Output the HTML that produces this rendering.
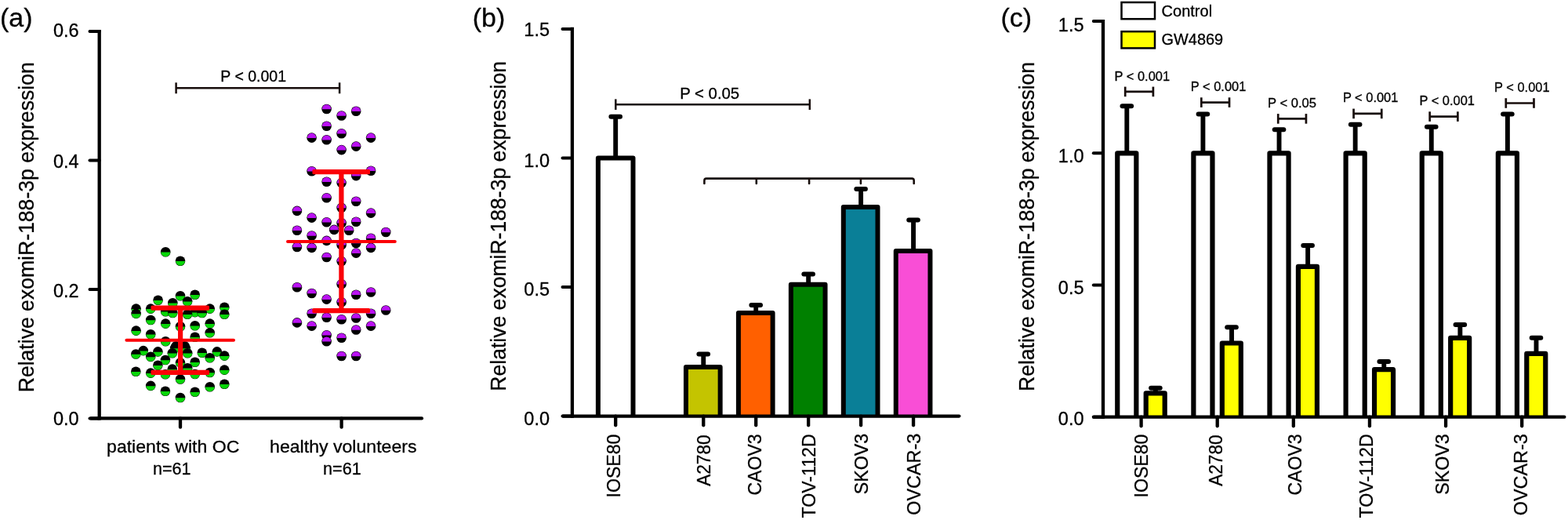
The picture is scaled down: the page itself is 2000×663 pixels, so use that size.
<!DOCTYPE html>
<html lang="en"><head><meta charset="utf-8"><title>Figure</title>
<style>
html,body{margin:0;padding:0;background:#fff;}
body{width:2000px;height:663px;overflow:hidden;}
svg{display:block;font-family:'Liberation Sans', sans-serif;}
text{fill:#000;stroke:#000;}
</style></head><body>
<svg width="2000" height="663" viewBox="0 0 2000 663">
<rect width="2000" height="663" fill="#fff"/>
<text x="0" y="33.5" font-size="34" stroke-width="0.3">(a)</text>
<text x="42.8" y="500.3" font-size="27" stroke-width="0.3" transform="rotate(-90 42.8 500.3)" textLength="421" lengthAdjust="spacingAndGlyphs">Relative exomiR-188-3p expression</text>
<text x="220.7" y="576.7" font-size="22.5" text-anchor="middle" stroke-width="0.3" textLength="169.3" lengthAdjust="spacingAndGlyphs">patients with OC</text>
<text x="219.3" y="604.8" font-size="22.5" text-anchor="middle" stroke-width="0.3" textLength="48.6" lengthAdjust="spacingAndGlyphs">n=61</text>
<text x="437.8" y="576.9" font-size="22.3" text-anchor="middle" stroke-width="0.3" textLength="187.5" lengthAdjust="spacingAndGlyphs">healthy volunteers</text>
<text x="436.4" y="604.9" font-size="22.5" text-anchor="middle" stroke-width="0.3" textLength="48.6" lengthAdjust="spacingAndGlyphs">n=61</text>
<line x1="224.6" y1="112.3" x2="433.1" y2="112.3" stroke="#180e0c" stroke-width="2.4"/>
<line x1="224.6" y1="105.3" x2="224.6" y2="119.3" stroke="#180e0c" stroke-width="2.5"/>
<line x1="433.1" y1="105.3" x2="433.1" y2="119.3" stroke="#180e0c" stroke-width="2.5"/>
<text x="323.2" y="103.6" font-size="19.5" text-anchor="middle" stroke-width="0.3">P &lt; 0.001</text>
<g>
<circle cx="211.2" cy="321.2" r="6.3"/><path d="M205.21 321.5A6.0 6.0 0 0 0 217.19 321.5Z" fill="#08d608"/>
<circle cx="230" cy="332.8" r="6.3"/><path d="M224.01 333.1A6.0 6.0 0 0 0 235.99 333.1Z" fill="#08d608"/>
<circle cx="248.7" cy="375.8" r="6.3"/><path d="M242.71 376.1A6.0 6.0 0 0 0 254.69 376.1Z" fill="#08d608"/>
<circle cx="230" cy="377.3" r="6.3"/><path d="M224.01 377.6A6.0 6.0 0 0 0 235.99 377.6Z" fill="#08d608"/>
<circle cx="201.6" cy="382.7" r="6.3"/><path d="M195.61 383A6.0 6.0 0 0 0 207.59 383Z" fill="#08d608"/>
<circle cx="239.1" cy="384.2" r="6.3"/><path d="M233.11 384.5A6.0 6.0 0 0 0 245.09 384.5Z" fill="#08d608"/>
<circle cx="220.3" cy="386.3" r="6.3"/><path d="M214.31 386.6A6.0 6.0 0 0 0 226.29 386.6Z" fill="#08d608"/>
<circle cx="286.3" cy="391.8" r="6.3"/><path d="M280.31 392.1A6.0 6.0 0 0 0 292.29 392.1Z" fill="#08d608"/>
<circle cx="173.6" cy="393.6" r="6.3"/><path d="M167.61 393.9A6.0 6.0 0 0 0 179.59 393.9Z" fill="#08d608"/>
<circle cx="192.2" cy="393.6" r="6.3"/><path d="M186.21 393.9A6.0 6.0 0 0 0 198.19 393.9Z" fill="#08d608"/>
<circle cx="267.7" cy="393.6" r="6.3"/><path d="M261.71 393.9A6.0 6.0 0 0 0 273.69 393.9Z" fill="#08d608"/>
<circle cx="211.2" cy="397.2" r="6.3"/><path d="M205.21 397.5A6.0 6.0 0 0 0 217.19 397.5Z" fill="#08d608"/>
<circle cx="248.7" cy="398.1" r="6.3"/><path d="M242.71 398.4A6.0 6.0 0 0 0 254.69 398.4Z" fill="#08d608"/>
<circle cx="220.3" cy="399" r="6.3"/><path d="M214.31 399.3A6.0 6.0 0 0 0 226.29 399.3Z" fill="#08d608"/>
<circle cx="257.7" cy="399" r="6.3"/><path d="M251.71 399.3A6.0 6.0 0 0 0 263.69 399.3Z" fill="#08d608"/>
<circle cx="173.6" cy="399.9" r="6.3"/><path d="M167.61 400.2A6.0 6.0 0 0 0 179.59 400.2Z" fill="#08d608"/>
<circle cx="239.1" cy="400.8" r="6.3"/><path d="M233.11 401.1A6.0 6.0 0 0 0 245.09 401.1Z" fill="#08d608"/>
<circle cx="286.3" cy="400.8" r="6.3"/><path d="M280.31 401.1A6.0 6.0 0 0 0 292.29 401.1Z" fill="#08d608"/>
<circle cx="192.2" cy="408" r="6.3"/><path d="M186.21 408.3A6.0 6.0 0 0 0 198.19 408.3Z" fill="#08d608"/>
<circle cx="211.2" cy="412.6" r="6.3"/><path d="M205.21 412.9A6.0 6.0 0 0 0 217.19 412.9Z" fill="#08d608"/>
<circle cx="267.7" cy="412.6" r="6.3"/><path d="M261.71 412.9A6.0 6.0 0 0 0 273.69 412.9Z" fill="#08d608"/>
<circle cx="248.7" cy="415.3" r="6.3"/><path d="M242.71 415.6A6.0 6.0 0 0 0 254.69 415.6Z" fill="#08d608"/>
<circle cx="230" cy="416.2" r="6.3"/><path d="M224.01 416.5A6.0 6.0 0 0 0 235.99 416.5Z" fill="#08d608"/>
<circle cx="173.6" cy="421.6" r="6.3"/><path d="M167.61 421.9A6.0 6.0 0 0 0 179.59 421.9Z" fill="#08d608"/>
<circle cx="267.7" cy="424.3" r="6.3"/><path d="M261.71 424.6A6.0 6.0 0 0 0 273.69 424.6Z" fill="#08d608"/>
<circle cx="192.2" cy="426.2" r="6.3"/><path d="M186.21 426.5A6.0 6.0 0 0 0 198.19 426.5Z" fill="#08d608"/>
<circle cx="248.7" cy="429.8" r="6.3"/><path d="M242.71 430.1A6.0 6.0 0 0 0 254.69 430.1Z" fill="#08d608"/>
<circle cx="211.2" cy="435.2" r="6.3"/><path d="M205.21 435.5A6.0 6.0 0 0 0 217.19 435.5Z" fill="#08d608"/>
<circle cx="224.6" cy="441.2" r="6.3"/><path d="M218.61 441.5A6.0 6.0 0 0 0 230.59 441.5Z" fill="#08d608"/>
<circle cx="235.5" cy="441.2" r="6.3"/><path d="M229.51 441.5A6.0 6.0 0 0 0 241.49 441.5Z" fill="#08d608"/>
<circle cx="223.1" cy="444" r="6.3"/><path d="M217.11 444.3A6.0 6.0 0 0 0 229.09 444.3Z" fill="#08d608"/>
<circle cx="236.7" cy="444" r="6.3"/><path d="M230.71 444.3A6.0 6.0 0 0 0 242.69 444.3Z" fill="#08d608"/>
<circle cx="182.8" cy="447.1" r="6.3"/><path d="M176.81 447.4A6.0 6.0 0 0 0 188.79 447.4Z" fill="#08d608"/>
<circle cx="201.4" cy="448.4" r="6.3"/><path d="M195.41 448.7A6.0 6.0 0 0 0 207.39 448.7Z" fill="#08d608"/>
<circle cx="276.8" cy="448.4" r="6.3"/><path d="M270.81 448.7A6.0 6.0 0 0 0 282.79 448.7Z" fill="#08d608"/>
<circle cx="257.8" cy="449.8" r="6.3"/><path d="M251.81 450.1A6.0 6.0 0 0 0 263.79 450.1Z" fill="#08d608"/>
<circle cx="219.8" cy="450.2" r="6.3"/><path d="M213.81 450.5A6.0 6.0 0 0 0 225.79 450.5Z" fill="#08d608"/>
<circle cx="239.2" cy="450.2" r="6.3"/><path d="M233.21 450.5A6.0 6.0 0 0 0 245.19 450.5Z" fill="#08d608"/>
<circle cx="173.3" cy="451.5" r="6.3"/><path d="M167.31 451.8A6.0 6.0 0 0 0 179.29 451.8Z" fill="#08d608"/>
<circle cx="286.3" cy="453.6" r="6.3"/><path d="M280.31 453.9A6.0 6.0 0 0 0 292.29 453.9Z" fill="#08d608"/>
<circle cx="192.2" cy="454.9" r="6.3"/><path d="M186.21 455.2A6.0 6.0 0 0 0 198.19 455.2Z" fill="#08d608"/>
<circle cx="267.7" cy="456.3" r="6.3"/><path d="M261.71 456.6A6.0 6.0 0 0 0 273.69 456.6Z" fill="#08d608"/>
<circle cx="210.9" cy="459" r="6.3"/><path d="M204.91 459.3A6.0 6.0 0 0 0 216.89 459.3Z" fill="#08d608"/>
<circle cx="248.7" cy="461.7" r="6.3"/><path d="M242.71 462A6.0 6.0 0 0 0 254.69 462Z" fill="#08d608"/>
<circle cx="230" cy="462.4" r="6.3"/><path d="M224.01 462.7A6.0 6.0 0 0 0 235.99 462.7Z" fill="#08d608"/>
<circle cx="201.4" cy="465.8" r="6.3"/><path d="M195.41 466.1A6.0 6.0 0 0 0 207.39 466.1Z" fill="#08d608"/>
<circle cx="239.2" cy="469.2" r="6.3"/><path d="M233.21 469.5A6.0 6.0 0 0 0 245.19 469.5Z" fill="#08d608"/>
<circle cx="219.8" cy="470.6" r="6.3"/><path d="M213.81 470.9A6.0 6.0 0 0 0 225.79 470.9Z" fill="#08d608"/>
<circle cx="286.3" cy="471.6" r="6.3"/><path d="M280.31 471.9A6.0 6.0 0 0 0 292.29 471.9Z" fill="#08d608"/>
<circle cx="173.3" cy="473.7" r="6.3"/><path d="M167.31 474A6.0 6.0 0 0 0 179.29 474Z" fill="#08d608"/>
<circle cx="267.7" cy="475" r="6.3"/><path d="M261.71 475.3A6.0 6.0 0 0 0 273.69 475.3Z" fill="#08d608"/>
<circle cx="192.2" cy="475.6" r="6.3"/><path d="M186.21 475.9A6.0 6.0 0 0 0 198.19 475.9Z" fill="#08d608"/>
<circle cx="248.7" cy="477" r="6.3"/><path d="M242.71 477.3A6.0 6.0 0 0 0 254.69 477.3Z" fill="#08d608"/>
<circle cx="210.9" cy="477.3" r="6.3"/><path d="M204.91 477.6A6.0 6.0 0 0 0 216.89 477.6Z" fill="#08d608"/>
<circle cx="230" cy="483.5" r="6.3"/><path d="M224.01 483.8A6.0 6.0 0 0 0 235.99 483.8Z" fill="#08d608"/>
<circle cx="286.3" cy="489.8" r="6.3"/><path d="M280.31 490.1A6.0 6.0 0 0 0 292.29 490.1Z" fill="#08d608"/>
<circle cx="192.2" cy="491.9" r="6.3"/><path d="M186.21 492.2A6.0 6.0 0 0 0 198.19 492.2Z" fill="#08d608"/>
<circle cx="267.7" cy="493.2" r="6.3"/><path d="M261.71 493.5A6.0 6.0 0 0 0 273.69 493.5Z" fill="#08d608"/>
<circle cx="210.9" cy="498.7" r="6.3"/><path d="M204.91 499A6.0 6.0 0 0 0 216.89 499Z" fill="#08d608"/>
<circle cx="248.7" cy="499.7" r="6.3"/><path d="M242.71 500A6.0 6.0 0 0 0 254.69 500Z" fill="#08d608"/>
<circle cx="230" cy="507" r="6.3"/><path d="M224.01 507.3A6.0 6.0 0 0 0 235.99 507.3Z" fill="#08d608"/>
<circle cx="416.6" cy="139" r="6.3"/><path d="M410.91 139.3A5.7 5.7 0 1 1 422.29 139.3Z" fill="#ba12f2"/>
<circle cx="454.2" cy="141.7" r="6.3"/><path d="M448.51 142A5.7 5.7 0 1 1 459.89 142Z" fill="#ba12f2"/>
<circle cx="435.6" cy="147.5" r="6.3"/><path d="M429.91 147.8A5.7 5.7 0 1 1 441.29 147.8Z" fill="#ba12f2"/>
<circle cx="416.6" cy="160.7" r="6.3"/><path d="M410.91 161A5.7 5.7 0 1 1 422.29 161Z" fill="#ba12f2"/>
<circle cx="435.6" cy="170.3" r="6.3"/><path d="M429.91 170.6A5.7 5.7 0 1 1 441.29 170.6Z" fill="#ba12f2"/>
<circle cx="397.6" cy="175.6" r="6.3"/><path d="M391.91 175.9A5.7 5.7 0 1 1 403.29 175.9Z" fill="#ba12f2"/>
<circle cx="473.1" cy="175.6" r="6.3"/><path d="M467.41 175.9A5.7 5.7 0 1 1 478.79 175.9Z" fill="#ba12f2"/>
<circle cx="416.6" cy="178.3" r="6.3"/><path d="M410.91 178.6A5.7 5.7 0 1 1 422.29 178.6Z" fill="#ba12f2"/>
<circle cx="454.2" cy="186.6" r="6.3"/><path d="M448.51 186.9A5.7 5.7 0 1 1 459.89 186.9Z" fill="#ba12f2"/>
<circle cx="435.6" cy="191.1" r="6.3"/><path d="M429.91 191.4A5.7 5.7 0 1 1 441.29 191.4Z" fill="#ba12f2"/>
<circle cx="473.1" cy="217.7" r="6.3"/><path d="M467.41 218A5.7 5.7 0 1 1 478.79 218Z" fill="#ba12f2"/>
<circle cx="397.6" cy="218.3" r="6.3"/><path d="M391.91 218.6A5.7 5.7 0 1 1 403.29 218.6Z" fill="#ba12f2"/>
<circle cx="454.2" cy="224.1" r="6.3"/><path d="M448.51 224.4A5.7 5.7 0 1 1 459.89 224.4Z" fill="#ba12f2"/>
<circle cx="416.6" cy="231.7" r="6.3"/><path d="M410.91 232A5.7 5.7 0 1 1 422.29 232Z" fill="#ba12f2"/>
<circle cx="435.6" cy="233.1" r="6.3"/><path d="M429.91 233.4A5.7 5.7 0 1 1 441.29 233.4Z" fill="#ba12f2"/>
<circle cx="416.6" cy="252.2" r="6.3"/><path d="M410.91 252.5A5.7 5.7 0 1 1 422.29 252.5Z" fill="#ba12f2"/>
<circle cx="454.2" cy="256.7" r="6.3"/><path d="M448.51 257A5.7 5.7 0 1 1 459.89 257Z" fill="#ba12f2"/>
<circle cx="435.6" cy="264.9" r="6.3"/><path d="M429.91 265.2A5.7 5.7 0 1 1 441.29 265.2Z" fill="#ba12f2"/>
<circle cx="378.9" cy="268.9" r="6.3"/><path d="M373.21 269.2A5.7 5.7 0 1 1 384.59 269.2Z" fill="#ba12f2"/>
<circle cx="473.1" cy="271.6" r="6.3"/><path d="M467.41 271.9A5.7 5.7 0 1 1 478.79 271.9Z" fill="#ba12f2"/>
<circle cx="397.6" cy="277.6" r="6.3"/><path d="M391.91 277.9A5.7 5.7 0 1 1 403.29 277.9Z" fill="#ba12f2"/>
<circle cx="454.2" cy="282.8" r="6.3"/><path d="M448.51 283.1A5.7 5.7 0 1 1 459.89 283.1Z" fill="#ba12f2"/>
<circle cx="416.6" cy="283.3" r="6.3"/><path d="M410.91 283.6A5.7 5.7 0 1 1 422.29 283.6Z" fill="#ba12f2"/>
<circle cx="435.6" cy="284.3" r="6.3"/><path d="M429.91 284.6A5.7 5.7 0 1 1 441.29 284.6Z" fill="#ba12f2"/>
<circle cx="426.2" cy="292.9" r="6.3"/><path d="M420.51 293.2A5.7 5.7 0 1 1 431.89 293.2Z" fill="#ba12f2"/>
<circle cx="445.2" cy="293.7" r="6.3"/><path d="M439.51 294A5.7 5.7 0 1 1 450.89 294Z" fill="#ba12f2"/>
<circle cx="378.9" cy="293.7" r="6.3"/><path d="M373.21 294A5.7 5.7 0 1 1 384.59 294Z" fill="#ba12f2"/>
<circle cx="492.2" cy="296" r="6.3"/><path d="M486.51 296.3A5.7 5.7 0 1 1 497.89 296.3Z" fill="#ba12f2"/>
<circle cx="397.6" cy="300.5" r="6.3"/><path d="M391.91 300.8A5.7 5.7 0 1 1 403.29 300.8Z" fill="#ba12f2"/>
<circle cx="473.1" cy="303.8" r="6.3"/><path d="M467.41 304.1A5.7 5.7 0 1 1 478.79 304.1Z" fill="#ba12f2"/>
<circle cx="416.6" cy="306.9" r="6.3"/><path d="M410.91 307.2A5.7 5.7 0 1 1 422.29 307.2Z" fill="#ba12f2"/>
<circle cx="454.2" cy="310" r="6.3"/><path d="M448.51 310.3A5.7 5.7 0 1 1 459.89 310.3Z" fill="#ba12f2"/>
<circle cx="435.6" cy="312.3" r="6.3"/><path d="M429.91 312.6A5.7 5.7 0 1 1 441.29 312.6Z" fill="#ba12f2"/>
<circle cx="378.9" cy="315" r="6.3"/><path d="M373.21 315.3A5.7 5.7 0 1 1 384.59 315.3Z" fill="#ba12f2"/>
<circle cx="397.6" cy="315.9" r="6.3"/><path d="M391.91 316.2A5.7 5.7 0 1 1 403.29 316.2Z" fill="#ba12f2"/>
<circle cx="473.1" cy="315.9" r="6.3"/><path d="M467.41 316.2A5.7 5.7 0 1 1 478.79 316.2Z" fill="#ba12f2"/>
<circle cx="454.2" cy="322.6" r="6.3"/><path d="M448.51 322.9A5.7 5.7 0 1 1 459.89 322.9Z" fill="#ba12f2"/>
<circle cx="416.6" cy="328" r="6.3"/><path d="M410.91 328.3A5.7 5.7 0 1 1 422.29 328.3Z" fill="#ba12f2"/>
<circle cx="435.6" cy="333.1" r="6.3"/><path d="M429.91 333.4A5.7 5.7 0 1 1 441.29 333.4Z" fill="#ba12f2"/>
<circle cx="435.6" cy="362.2" r="6.3"/><path d="M429.91 362.5A5.7 5.7 0 1 1 441.29 362.5Z" fill="#ba12f2"/>
<circle cx="378.9" cy="366.2" r="6.3"/><path d="M373.21 366.5A5.7 5.7 0 1 1 384.59 366.5Z" fill="#ba12f2"/>
<circle cx="473.1" cy="372.5" r="6.3"/><path d="M467.41 372.8A5.7 5.7 0 1 1 478.79 372.8Z" fill="#ba12f2"/>
<circle cx="397.6" cy="374" r="6.3"/><path d="M391.91 374.3A5.7 5.7 0 1 1 403.29 374.3Z" fill="#ba12f2"/>
<circle cx="454.2" cy="375.8" r="6.3"/><path d="M448.51 376.1A5.7 5.7 0 1 1 459.89 376.1Z" fill="#ba12f2"/>
<circle cx="416.6" cy="381.6" r="6.3"/><path d="M410.91 381.9A5.7 5.7 0 1 1 422.29 381.9Z" fill="#ba12f2"/>
<circle cx="435.6" cy="385.2" r="6.3"/><path d="M429.91 385.5A5.7 5.7 0 1 1 441.29 385.5Z" fill="#ba12f2"/>
<circle cx="492.2" cy="395.5" r="6.3"/><path d="M486.51 395.8A5.7 5.7 0 1 1 497.89 395.8Z" fill="#ba12f2"/>
<circle cx="397.6" cy="399.7" r="6.3"/><path d="M391.91 400A5.7 5.7 0 1 1 403.29 400Z" fill="#ba12f2"/>
<circle cx="473.1" cy="399.7" r="6.3"/><path d="M467.41 400A5.7 5.7 0 1 1 478.79 400Z" fill="#ba12f2"/>
<circle cx="416.6" cy="404.8" r="6.3"/><path d="M410.91 405.1A5.7 5.7 0 1 1 422.29 405.1Z" fill="#ba12f2"/>
<circle cx="454.2" cy="405.5" r="6.3"/><path d="M448.51 405.8A5.7 5.7 0 1 1 459.89 405.8Z" fill="#ba12f2"/>
<circle cx="435.6" cy="407.3" r="6.3"/><path d="M429.91 407.6A5.7 5.7 0 1 1 441.29 407.6Z" fill="#ba12f2"/>
<circle cx="378.9" cy="411.4" r="6.3"/><path d="M373.21 411.7A5.7 5.7 0 1 1 384.59 411.7Z" fill="#ba12f2"/>
<circle cx="397.6" cy="415.6" r="6.3"/><path d="M391.91 415.9A5.7 5.7 0 1 1 403.29 415.9Z" fill="#ba12f2"/>
<circle cx="473.1" cy="415.6" r="6.3"/><path d="M467.41 415.9A5.7 5.7 0 1 1 478.79 415.9Z" fill="#ba12f2"/>
<circle cx="454.2" cy="420.5" r="6.3"/><path d="M448.51 420.8A5.7 5.7 0 1 1 459.89 420.8Z" fill="#ba12f2"/>
<circle cx="416.6" cy="427.3" r="6.3"/><path d="M410.91 427.6A5.7 5.7 0 1 1 422.29 427.6Z" fill="#ba12f2"/>
<circle cx="435.6" cy="430.7" r="6.3"/><path d="M429.91 431A5.7 5.7 0 1 1 441.29 431Z" fill="#ba12f2"/>
<circle cx="416.6" cy="435.2" r="6.3"/><path d="M410.91 435.5A5.7 5.7 0 1 1 422.29 435.5Z" fill="#ba12f2"/>
<circle cx="435.6" cy="454" r="6.3"/><path d="M429.91 454.3A5.7 5.7 0 1 1 441.29 454.3Z" fill="#ba12f2"/>
<circle cx="454.2" cy="454" r="6.3"/><path d="M448.51 454.3A5.7 5.7 0 1 1 459.89 454.3Z" fill="#ba12f2"/>
</g>
<line x1="161.4" y1="433.8" x2="298" y2="433.8" stroke="#fb0007" stroke-width="4" stroke-linecap="round"/>
<rect x="192.5" y="389.55" width="74.5" height="6.3" rx="1.5" fill="#fb0007"/>
<rect x="192.5" y="471.65" width="74.5" height="6.3" rx="1.5" fill="#fb0007"/>
<line x1="230.1" y1="392.7" x2="230.1" y2="474.8" stroke="#fb0007" stroke-width="6.2"/>
<line x1="367" y1="308" x2="503.8" y2="308" stroke="#fb0007" stroke-width="4" stroke-linecap="round"/>
<rect x="398.4" y="215.95" width="73.6" height="6.3" rx="1.5" fill="#fb0007"/>
<rect x="398.4" y="392.95" width="73.6" height="6.3" rx="1.5" fill="#fb0007"/>
<line x1="435.4" y1="219.1" x2="435.4" y2="396.1" stroke="#fb0007" stroke-width="6.2"/>
<line x1="126.7" y1="37.9" x2="126.7" y2="535.5" stroke="#000" stroke-width="4.3"/>
<line x1="116" y1="533.4" x2="538" y2="533.4" stroke="#000" stroke-width="4.2" stroke-linecap="round"/>
<line x1="114.5" y1="40" x2="126.7" y2="40" stroke="#000" stroke-width="4.0" stroke-linecap="round"/>
<text x="100.6" y="47.2" font-size="23.5" text-anchor="end" stroke-width="0.3">0.6</text>
<line x1="114.5" y1="204.47" x2="126.7" y2="204.47" stroke="#000" stroke-width="4.0" stroke-linecap="round"/>
<text x="100.6" y="213.77" font-size="23.5" text-anchor="end" stroke-width="0.3">0.4</text>
<line x1="114.5" y1="368.93" x2="126.7" y2="368.93" stroke="#000" stroke-width="4.0" stroke-linecap="round"/>
<text x="100.6" y="379.03" font-size="23.5" text-anchor="end" stroke-width="0.3">0.2</text>
<line x1="114.5" y1="533.4" x2="126.7" y2="533.4" stroke="#000" stroke-width="4.0" stroke-linecap="round"/>
<text x="100.6" y="542" font-size="23.5" text-anchor="end" stroke-width="0.3">0.0</text>
<line x1="230" y1="533.4" x2="230" y2="544.7" stroke="#000" stroke-width="4.3" stroke-linecap="round"/>
<line x1="435.6" y1="533.4" x2="435.6" y2="544.7" stroke="#000" stroke-width="4.3" stroke-linecap="round"/>
<text x="602.8" y="33.5" font-size="34" stroke-width="0.3">(b)</text>
<text x="644.8" y="498.7" font-size="27" stroke-width="0.3" transform="rotate(-90 644.8 498.7)" textLength="420.7" lengthAdjust="spacingAndGlyphs">Relative exomiR-188-3p expression</text>
<line x1="785.2" y1="201.5" x2="785.2" y2="148.84" stroke="#000" stroke-width="5.9"/>
<line x1="779.4" y1="148.84" x2="791" y2="148.84" stroke="#000" stroke-width="6.0" stroke-linecap="round"/>
<path d="M762.90 530.60V201.50H807.50V530.60" fill="#fff" stroke="#000" stroke-width="6.0" stroke-linejoin="round"/>
<text x="791.3" y="553.6" font-size="24" text-anchor="end" stroke-width="0.3" transform="rotate(-90 791.3 553.6)" textLength="80.8" lengthAdjust="spacingAndGlyphs">IOSE80</text>
<line x1="897.25" y1="468.07" x2="897.25" y2="451.62" stroke="#000" stroke-width="5.9"/>
<line x1="891.45" y1="451.62" x2="903.05" y2="451.62" stroke="#000" stroke-width="6.0" stroke-linecap="round"/>
<path d="M874.95 530.60V468.07H918.65V530.60" fill="#c4c400" stroke="#000" stroke-width="6.0" stroke-linejoin="round"/>
<text x="905.6" y="554.5" font-size="24" text-anchor="end" stroke-width="0.3" transform="rotate(-90 905.6 554.5)" textLength="65.2" lengthAdjust="spacingAndGlyphs">A2780</text>
<line x1="964.2" y1="398.96" x2="964.2" y2="389.09" stroke="#000" stroke-width="5.9"/>
<line x1="958.4" y1="389.09" x2="970" y2="389.09" stroke="#000" stroke-width="6.0" stroke-linecap="round"/>
<path d="M941.90 530.60V398.96H985.60V530.60" fill="#ff6000" stroke="#000" stroke-width="6.0" stroke-linejoin="round"/>
<text x="971.1" y="553.3" font-size="24" text-anchor="end" stroke-width="0.3" transform="rotate(-90 971.1 553.3)" textLength="78.3" lengthAdjust="spacingAndGlyphs">CAOV3</text>
<line x1="1031.15" y1="362.76" x2="1031.15" y2="349.6" stroke="#000" stroke-width="5.9"/>
<line x1="1025.35" y1="349.6" x2="1036.95" y2="349.6" stroke="#000" stroke-width="6.0" stroke-linecap="round"/>
<path d="M1008.85 530.60V362.76H1052.55V530.60" fill="#008000" stroke="#000" stroke-width="6.0" stroke-linejoin="round"/>
<text x="1039.9" y="553.3" font-size="24" text-anchor="end" stroke-width="0.3" transform="rotate(-90 1039.9 553.3)" textLength="107.2" lengthAdjust="spacingAndGlyphs">TOV-112D</text>
<line x1="1098.1" y1="264.03" x2="1098.1" y2="240.99" stroke="#000" stroke-width="5.9"/>
<line x1="1092.3" y1="240.99" x2="1103.9" y2="240.99" stroke="#000" stroke-width="6.0" stroke-linecap="round"/>
<path d="M1075.80 530.60V264.03H1119.50V530.60" fill="#0a7f97" stroke="#000" stroke-width="6.0" stroke-linejoin="round"/>
<text x="1107.2" y="552.7" font-size="24" text-anchor="end" stroke-width="0.3" transform="rotate(-90 1107.2 552.7)" textLength="77.5" lengthAdjust="spacingAndGlyphs">SKOV3</text>
<line x1="1165.05" y1="319.98" x2="1165.05" y2="280.48" stroke="#000" stroke-width="5.9"/>
<line x1="1159.25" y1="280.48" x2="1170.85" y2="280.48" stroke="#000" stroke-width="6.0" stroke-linecap="round"/>
<path d="M1142.75 530.60V319.98H1186.45V530.60" fill="#f94ed6" stroke="#000" stroke-width="6.0" stroke-linejoin="round"/>
<text x="1174.4" y="552.7" font-size="24" text-anchor="end" stroke-width="0.3" transform="rotate(-90 1174.4 552.7)" textLength="104" lengthAdjust="spacingAndGlyphs">OVCAR-3</text>
<line x1="785.3" y1="133.2" x2="1032.8" y2="133.2" stroke="#180e0c" stroke-width="2.4"/>
<line x1="785.3" y1="126.4" x2="785.3" y2="140" stroke="#180e0c" stroke-width="2.5"/>
<line x1="1032.8" y1="126.4" x2="1032.8" y2="140" stroke="#180e0c" stroke-width="2.5"/>
<text x="905.2" y="126" font-size="19.5" text-anchor="middle" stroke-width="0.3" textLength="76" lengthAdjust="spacingAndGlyphs">P &lt; 0.05</text>
<path d="M898.4 234V230.2Q898.4 227.6 901 227.6H1163.1Q1165.7 227.6 1165.7 230.2V234M964.8 227.6V234M1032.1 227.6V234M1097.9 227.6V234" fill="none" stroke="#180e0c" stroke-width="2.6" stroke-linecap="round" stroke-linejoin="round"/>
<line x1="729.9" y1="34.85" x2="729.9" y2="532.7" stroke="#000" stroke-width="4.3"/>
<line x1="718" y1="530.6" x2="1223.4" y2="530.6" stroke="#000" stroke-width="4.2" stroke-linecap="round"/>
<line x1="717.5" y1="36.95" x2="729.9" y2="36.95" stroke="#000" stroke-width="4.0" stroke-linecap="round"/>
<text x="701" y="46.35" font-size="23.5" text-anchor="end" stroke-width="0.3">1.5</text>
<line x1="717.5" y1="201.5" x2="729.9" y2="201.5" stroke="#000" stroke-width="4.0" stroke-linecap="round"/>
<text x="701" y="213" font-size="23.5" text-anchor="end" stroke-width="0.3">1.0</text>
<line x1="717.5" y1="366.05" x2="729.9" y2="366.05" stroke="#000" stroke-width="4.0" stroke-linecap="round"/>
<text x="701" y="377.05" font-size="23.5" text-anchor="end" stroke-width="0.3">0.5</text>
<line x1="717.5" y1="530.6" x2="729.9" y2="530.6" stroke="#000" stroke-width="4.0" stroke-linecap="round"/>
<text x="701" y="541.9" font-size="23.5" text-anchor="end" stroke-width="0.3">0.0</text>
<line x1="785.2" y1="530.6" x2="785.2" y2="542.3" stroke="#000" stroke-width="4.3" stroke-linecap="round"/>
<line x1="897.25" y1="530.6" x2="897.25" y2="542.3" stroke="#000" stroke-width="4.3" stroke-linecap="round"/>
<line x1="964.2" y1="530.6" x2="964.2" y2="542.3" stroke="#000" stroke-width="4.3" stroke-linecap="round"/>
<line x1="1031.15" y1="530.6" x2="1031.15" y2="542.3" stroke="#000" stroke-width="4.3" stroke-linecap="round"/>
<line x1="1098.1" y1="530.6" x2="1098.1" y2="542.3" stroke="#000" stroke-width="4.3" stroke-linecap="round"/>
<line x1="1165.05" y1="530.6" x2="1165.05" y2="542.3" stroke="#000" stroke-width="4.3" stroke-linecap="round"/>
<text x="1276.5" y="33.8" font-size="34" stroke-width="0.3">(c)</text>
<text x="1319" y="499" font-size="27" stroke-width="0.3" transform="rotate(-90 1319 499)" textLength="420.1" lengthAdjust="spacingAndGlyphs">Relative exomiR-188-3p expression</text>
<line x1="1437.3" y1="195.3" x2="1437.3" y2="135.35" stroke="#000" stroke-width="5.9"/>
<line x1="1431.5" y1="135.35" x2="1443.1" y2="135.35" stroke="#000" stroke-width="6.0" stroke-linecap="round"/>
<path d="M1425.25 531.70V195.30H1449.35V531.70" fill="#fff" stroke="#000" stroke-width="6.2" stroke-linejoin="round"/>
<line x1="1473.9" y1="501.42" x2="1473.9" y2="494.7" stroke="#000" stroke-width="5.9"/>
<line x1="1468.1" y1="494.7" x2="1479.7" y2="494.7" stroke="#000" stroke-width="6.0" stroke-linecap="round"/>
<path d="M1461.70 531.70V501.42H1485.70V531.70" fill="#ffff00" stroke="#000" stroke-width="6.2" stroke-linejoin="round"/>
<text x="1463.6" y="553.6" font-size="24" text-anchor="end" stroke-width="0.3" transform="rotate(-90 1463.6 553.6)" textLength="80.8" lengthAdjust="spacingAndGlyphs">IOSE80</text>
<line x1="1435.2" y1="116.9" x2="1470.9" y2="116.9" stroke="#180e0c" stroke-width="2.6"/>
<line x1="1435.2" y1="110.6" x2="1435.2" y2="123.2" stroke="#180e0c" stroke-width="2.7"/>
<line x1="1470.9" y1="110.6" x2="1470.9" y2="123.2" stroke="#180e0c" stroke-width="2.7"/>
<text x="1456.8" y="102.6" font-size="16.5" text-anchor="middle" stroke-width="0.3" textLength="70.5" lengthAdjust="spacingAndGlyphs">P &lt; 0.001</text>
<line x1="1534.42" y1="195.3" x2="1534.42" y2="145.5" stroke="#000" stroke-width="5.9"/>
<line x1="1528.62" y1="145.5" x2="1540.22" y2="145.5" stroke="#000" stroke-width="6.0" stroke-linecap="round"/>
<path d="M1522.37 531.70V195.30H1546.47V531.70" fill="#fff" stroke="#000" stroke-width="6.2" stroke-linejoin="round"/>
<line x1="1571.02" y1="437.51" x2="1571.02" y2="417.32" stroke="#000" stroke-width="5.9"/>
<line x1="1565.22" y1="417.32" x2="1576.82" y2="417.32" stroke="#000" stroke-width="6.0" stroke-linecap="round"/>
<path d="M1558.82 531.70V437.51H1582.82V531.70" fill="#ffff00" stroke="#000" stroke-width="6.2" stroke-linejoin="round"/>
<text x="1559.1" y="554.5" font-size="24" text-anchor="end" stroke-width="0.3" transform="rotate(-90 1559.1 554.5)" textLength="65.2" lengthAdjust="spacingAndGlyphs">A2780</text>
<line x1="1532.32" y1="130.6" x2="1568.02" y2="130.6" stroke="#180e0c" stroke-width="2.6"/>
<line x1="1532.32" y1="124.3" x2="1532.32" y2="136.9" stroke="#180e0c" stroke-width="2.7"/>
<line x1="1568.02" y1="124.3" x2="1568.02" y2="136.9" stroke="#180e0c" stroke-width="2.7"/>
<text x="1554.1" y="116.1" font-size="16.5" text-anchor="middle" stroke-width="0.3" textLength="70.5" lengthAdjust="spacingAndGlyphs">P &lt; 0.001</text>
<line x1="1631.54" y1="195.3" x2="1631.54" y2="165.2" stroke="#000" stroke-width="5.9"/>
<line x1="1625.74" y1="165.2" x2="1637.34" y2="165.2" stroke="#000" stroke-width="6.0" stroke-linecap="round"/>
<path d="M1619.49 531.70V195.30H1643.59V531.70" fill="#fff" stroke="#000" stroke-width="6.2" stroke-linejoin="round"/>
<line x1="1668.14" y1="339.95" x2="1668.14" y2="313.04" stroke="#000" stroke-width="5.9"/>
<line x1="1662.34" y1="313.04" x2="1673.94" y2="313.04" stroke="#000" stroke-width="6.0" stroke-linecap="round"/>
<path d="M1655.94 531.70V339.95H1679.94V531.70" fill="#ffff00" stroke="#000" stroke-width="6.2" stroke-linejoin="round"/>
<text x="1659.9" y="553.3" font-size="24" text-anchor="end" stroke-width="0.3" transform="rotate(-90 1659.9 553.3)" textLength="78.3" lengthAdjust="spacingAndGlyphs">CAOV3</text>
<line x1="1630.24" y1="151.4" x2="1665.94" y2="151.4" stroke="#180e0c" stroke-width="2.6"/>
<line x1="1630.24" y1="145.1" x2="1630.24" y2="157.7" stroke="#180e0c" stroke-width="2.7"/>
<line x1="1665.94" y1="145.1" x2="1665.94" y2="157.7" stroke="#180e0c" stroke-width="2.7"/>
<text x="1648" y="136.8" font-size="16.5" text-anchor="middle" stroke-width="0.3" textLength="62" lengthAdjust="spacingAndGlyphs">P &lt; 0.05</text>
<line x1="1728.66" y1="195.3" x2="1728.66" y2="158.75" stroke="#000" stroke-width="5.9"/>
<line x1="1722.86" y1="158.75" x2="1734.46" y2="158.75" stroke="#000" stroke-width="6.0" stroke-linecap="round"/>
<path d="M1716.61 531.70V195.30H1740.71V531.70" fill="#fff" stroke="#000" stroke-width="6.2" stroke-linejoin="round"/>
<line x1="1765.26" y1="471.15" x2="1765.26" y2="461.06" stroke="#000" stroke-width="5.9"/>
<line x1="1759.46" y1="461.06" x2="1771.06" y2="461.06" stroke="#000" stroke-width="6.0" stroke-linecap="round"/>
<path d="M1753.06 531.70V471.15H1777.06V531.70" fill="#ffff00" stroke="#000" stroke-width="6.2" stroke-linejoin="round"/>
<text x="1751" y="553.3" font-size="24" text-anchor="end" stroke-width="0.3" transform="rotate(-90 1751 553.3)" textLength="107.2" lengthAdjust="spacingAndGlyphs">TOV-112D</text>
<line x1="1726.56" y1="144.9" x2="1762.26" y2="144.9" stroke="#180e0c" stroke-width="2.6"/>
<line x1="1726.56" y1="138.6" x2="1726.56" y2="151.2" stroke="#180e0c" stroke-width="2.7"/>
<line x1="1762.26" y1="138.6" x2="1762.26" y2="151.2" stroke="#180e0c" stroke-width="2.7"/>
<text x="1748.15" y="130.4" font-size="16.5" text-anchor="middle" stroke-width="0.3" textLength="70.5" lengthAdjust="spacingAndGlyphs">P &lt; 0.001</text>
<line x1="1825.78" y1="195.3" x2="1825.78" y2="161.75" stroke="#000" stroke-width="5.9"/>
<line x1="1819.98" y1="161.75" x2="1831.58" y2="161.75" stroke="#000" stroke-width="6.0" stroke-linecap="round"/>
<path d="M1813.73 531.70V195.30H1837.83V531.70" fill="#fff" stroke="#000" stroke-width="6.2" stroke-linejoin="round"/>
<line x1="1862.38" y1="430.78" x2="1862.38" y2="413.96" stroke="#000" stroke-width="5.9"/>
<line x1="1856.58" y1="413.96" x2="1868.18" y2="413.96" stroke="#000" stroke-width="6.0" stroke-linecap="round"/>
<path d="M1850.18 531.70V430.78H1874.18V531.70" fill="#ffff00" stroke="#000" stroke-width="6.2" stroke-linejoin="round"/>
<text x="1848.4" y="553.3" font-size="24" text-anchor="end" stroke-width="0.3" transform="rotate(-90 1848.4 553.3)" textLength="77.5" lengthAdjust="spacingAndGlyphs">SKOV3</text>
<line x1="1823.68" y1="148.6" x2="1859.38" y2="148.6" stroke="#180e0c" stroke-width="2.6"/>
<line x1="1823.68" y1="142.3" x2="1823.68" y2="154.9" stroke="#180e0c" stroke-width="2.7"/>
<line x1="1859.38" y1="142.3" x2="1859.38" y2="154.9" stroke="#180e0c" stroke-width="2.7"/>
<text x="1845.7" y="134.1" font-size="16.5" text-anchor="middle" stroke-width="0.3" textLength="70.5" lengthAdjust="spacingAndGlyphs">P &lt; 0.001</text>
<line x1="1922.9" y1="195.3" x2="1922.9" y2="145.55" stroke="#000" stroke-width="5.9"/>
<line x1="1917.1" y1="145.55" x2="1928.7" y2="145.55" stroke="#000" stroke-width="6.0" stroke-linecap="round"/>
<path d="M1910.85 531.70V195.30H1934.95V531.70" fill="#fff" stroke="#000" stroke-width="6.2" stroke-linejoin="round"/>
<line x1="1959.5" y1="450.96" x2="1959.5" y2="430.78" stroke="#000" stroke-width="5.9"/>
<line x1="1953.7" y1="430.78" x2="1965.3" y2="430.78" stroke="#000" stroke-width="6.0" stroke-linecap="round"/>
<path d="M1947.30 531.70V450.96H1971.30V531.70" fill="#ffff00" stroke="#000" stroke-width="6.2" stroke-linejoin="round"/>
<text x="1947.7" y="553.3" font-size="24" text-anchor="end" stroke-width="0.3" transform="rotate(-90 1947.7 553.3)" textLength="104" lengthAdjust="spacingAndGlyphs">OVCAR-3</text>
<line x1="1920.8" y1="131.5" x2="1956.5" y2="131.5" stroke="#180e0c" stroke-width="2.6"/>
<line x1="1920.8" y1="125.2" x2="1920.8" y2="137.8" stroke="#180e0c" stroke-width="2.7"/>
<line x1="1956.5" y1="125.2" x2="1956.5" y2="137.8" stroke="#180e0c" stroke-width="2.7"/>
<text x="1941.35" y="116.9" font-size="16.5" text-anchor="middle" stroke-width="0.3" textLength="70.5" lengthAdjust="spacingAndGlyphs">P &lt; 0.001</text>
<rect x="1430.5" y="3" width="42.5" height="21.2" fill="#fff" stroke="#000" stroke-width="2.5"/>
<rect x="1430.5" y="40.2" width="42.5" height="21.2" fill="#ffff00" stroke="#000" stroke-width="2.5"/>
<text x="1481.6" y="20.7" font-size="19.5" stroke-width="0.3" textLength="64.5" lengthAdjust="spacingAndGlyphs">Control</text>
<text x="1481.6" y="57.4" font-size="19.5" stroke-width="0.3" textLength="78.5" lengthAdjust="spacingAndGlyphs">GW4869</text>
<line x1="1407" y1="25" x2="1407" y2="533.8" stroke="#000" stroke-width="4.3"/>
<line x1="1395" y1="531.7" x2="1995.4" y2="531.7" stroke="#000" stroke-width="4.2" stroke-linecap="round"/>
<line x1="1394.8" y1="27.1" x2="1407" y2="27.1" stroke="#000" stroke-width="4.0" stroke-linecap="round"/>
<text x="1382.5" y="39.7" font-size="23.5" text-anchor="end" stroke-width="0.3">1.5</text>
<line x1="1394.8" y1="195.3" x2="1407" y2="195.3" stroke="#000" stroke-width="4.0" stroke-linecap="round"/>
<text x="1382.5" y="206.6" font-size="23.5" text-anchor="end" stroke-width="0.3">1.0</text>
<line x1="1394.8" y1="363.5" x2="1407" y2="363.5" stroke="#000" stroke-width="4.0" stroke-linecap="round"/>
<text x="1382.5" y="375.3" font-size="23.5" text-anchor="end" stroke-width="0.3">0.5</text>
<line x1="1394.8" y1="531.7" x2="1407" y2="531.7" stroke="#000" stroke-width="4.0" stroke-linecap="round"/>
<text x="1382.5" y="541.8" font-size="23.5" text-anchor="end" stroke-width="0.3">0.0</text>
<line x1="1455.6" y1="531.7" x2="1455.6" y2="543.3" stroke="#000" stroke-width="4.3" stroke-linecap="round"/>
<line x1="1552.72" y1="531.7" x2="1552.72" y2="543.3" stroke="#000" stroke-width="4.3" stroke-linecap="round"/>
<line x1="1649.84" y1="531.7" x2="1649.84" y2="543.3" stroke="#000" stroke-width="4.3" stroke-linecap="round"/>
<line x1="1746.96" y1="531.7" x2="1746.96" y2="543.3" stroke="#000" stroke-width="4.3" stroke-linecap="round"/>
<line x1="1844.08" y1="531.7" x2="1844.08" y2="543.3" stroke="#000" stroke-width="4.3" stroke-linecap="round"/>
<line x1="1941.2" y1="531.7" x2="1941.2" y2="543.3" stroke="#000" stroke-width="4.3" stroke-linecap="round"/>
</svg>
</body></html>
